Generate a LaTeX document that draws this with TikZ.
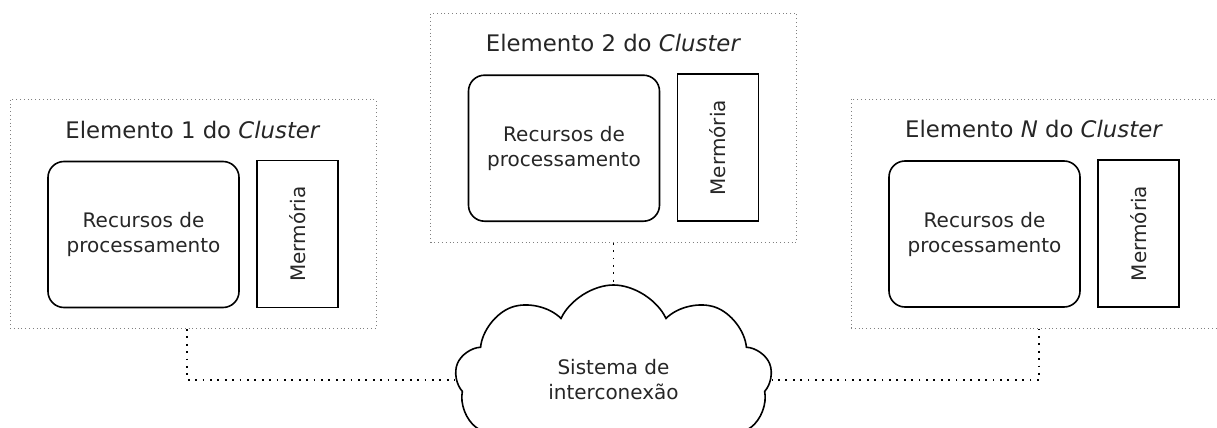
\documentclass[tikz,border=0pt]{standalone}
\usepackage{fontspec}
\setmainfont{DejaVu Sans}
\usetikzlibrary{shapes.symbols}

\begin{document}
\begin{tikzpicture}[x=0.5pt, y=-0.5pt,
    element/.style={draw=gray, line width=0.5pt, dash pattern=on 0.5pt off 1.4pt, minimum width=183pt, minimum height=114.5pt, inner sep=0pt},
    titletext/.style={anchor=base, text=black!85, font=\fontsize{11.4}{14}\selectfont},
    proc/.style={draw, line width=0.8pt, rounded corners=8pt, minimum width=95.5pt, minimum height=73pt, inner sep=0pt, align=center, text=black!85, font=\fontsize{10}{12.5}\selectfont},
    mem/.style={draw, line width=0.8pt, rotate=90, minimum width=73.5pt, minimum height=40.5pt, inner sep=0pt, text=black!85, font=\fontsize{10}{12.5}\selectfont},
    link/.style={line width=0.9pt, dash pattern=on 0.9pt off 2.8pt}]
  \useasboundingbox (0,0) rectangle (1217,428);

  \begin{scope}[shift={(193,214)}]
    \node (e1) at (0,0) [element] {};
    \node (t1) at (0,-76) [titletext] {Elemento 1 do \textit{Cluster}};
    \node (p1) at (-49.5,20.5) [proc] {Recursos de\\processamento};
    \node (m1) at (104.5,20) [mem] {Mermória};
  \end{scope}

  \begin{scope}[shift={(613.5,127.7)}]
    \node (e2) at (0,0) [element] {};
    \node (t2) at (0,-76) [titletext] {Elemento 2 do \textit{Cluster}};
    \node (p2) at (-49.5,20.5) [proc] {Recursos de\\processamento};
    \node (m2) at (104.5,20) [mem] {Mermória};
  \end{scope}

  \begin{scope}[shift={(1034,213.5)}]
    \node (eN) at (0,0) [element] {};
    \node (tN) at (0,-76) [titletext] {Elemento \textit{N} do \textit{Cluster}};
    \node (pN) at (-49.5,20.5) [proc] {Recursos de\\processamento};
    \node (mN) at (104.5,20) [mem] {Mermória};
  \end{scope}

  \node (net) at (613.5,380) [cloud, draw, line width=0.8pt, cloud puffs=9, cloud puff arc=130, aspect=2.4, inner sep=0pt, minimum width=158.5pt, minimum height=95pt, align=center, text=black!85, font=\fontsize{10}{12.5}\selectfont] {Sistema de\\interconexão};

  \coordinate (j1) at (187,382);
  \coordinate (jN) at (1039,382);
  \draw[link] (e1.south -| j1) |- (net);
  \draw[link] (e2) -- (net);
  \draw[link] (eN.south -| jN) |- (net);
\end{tikzpicture}
\end{document}
